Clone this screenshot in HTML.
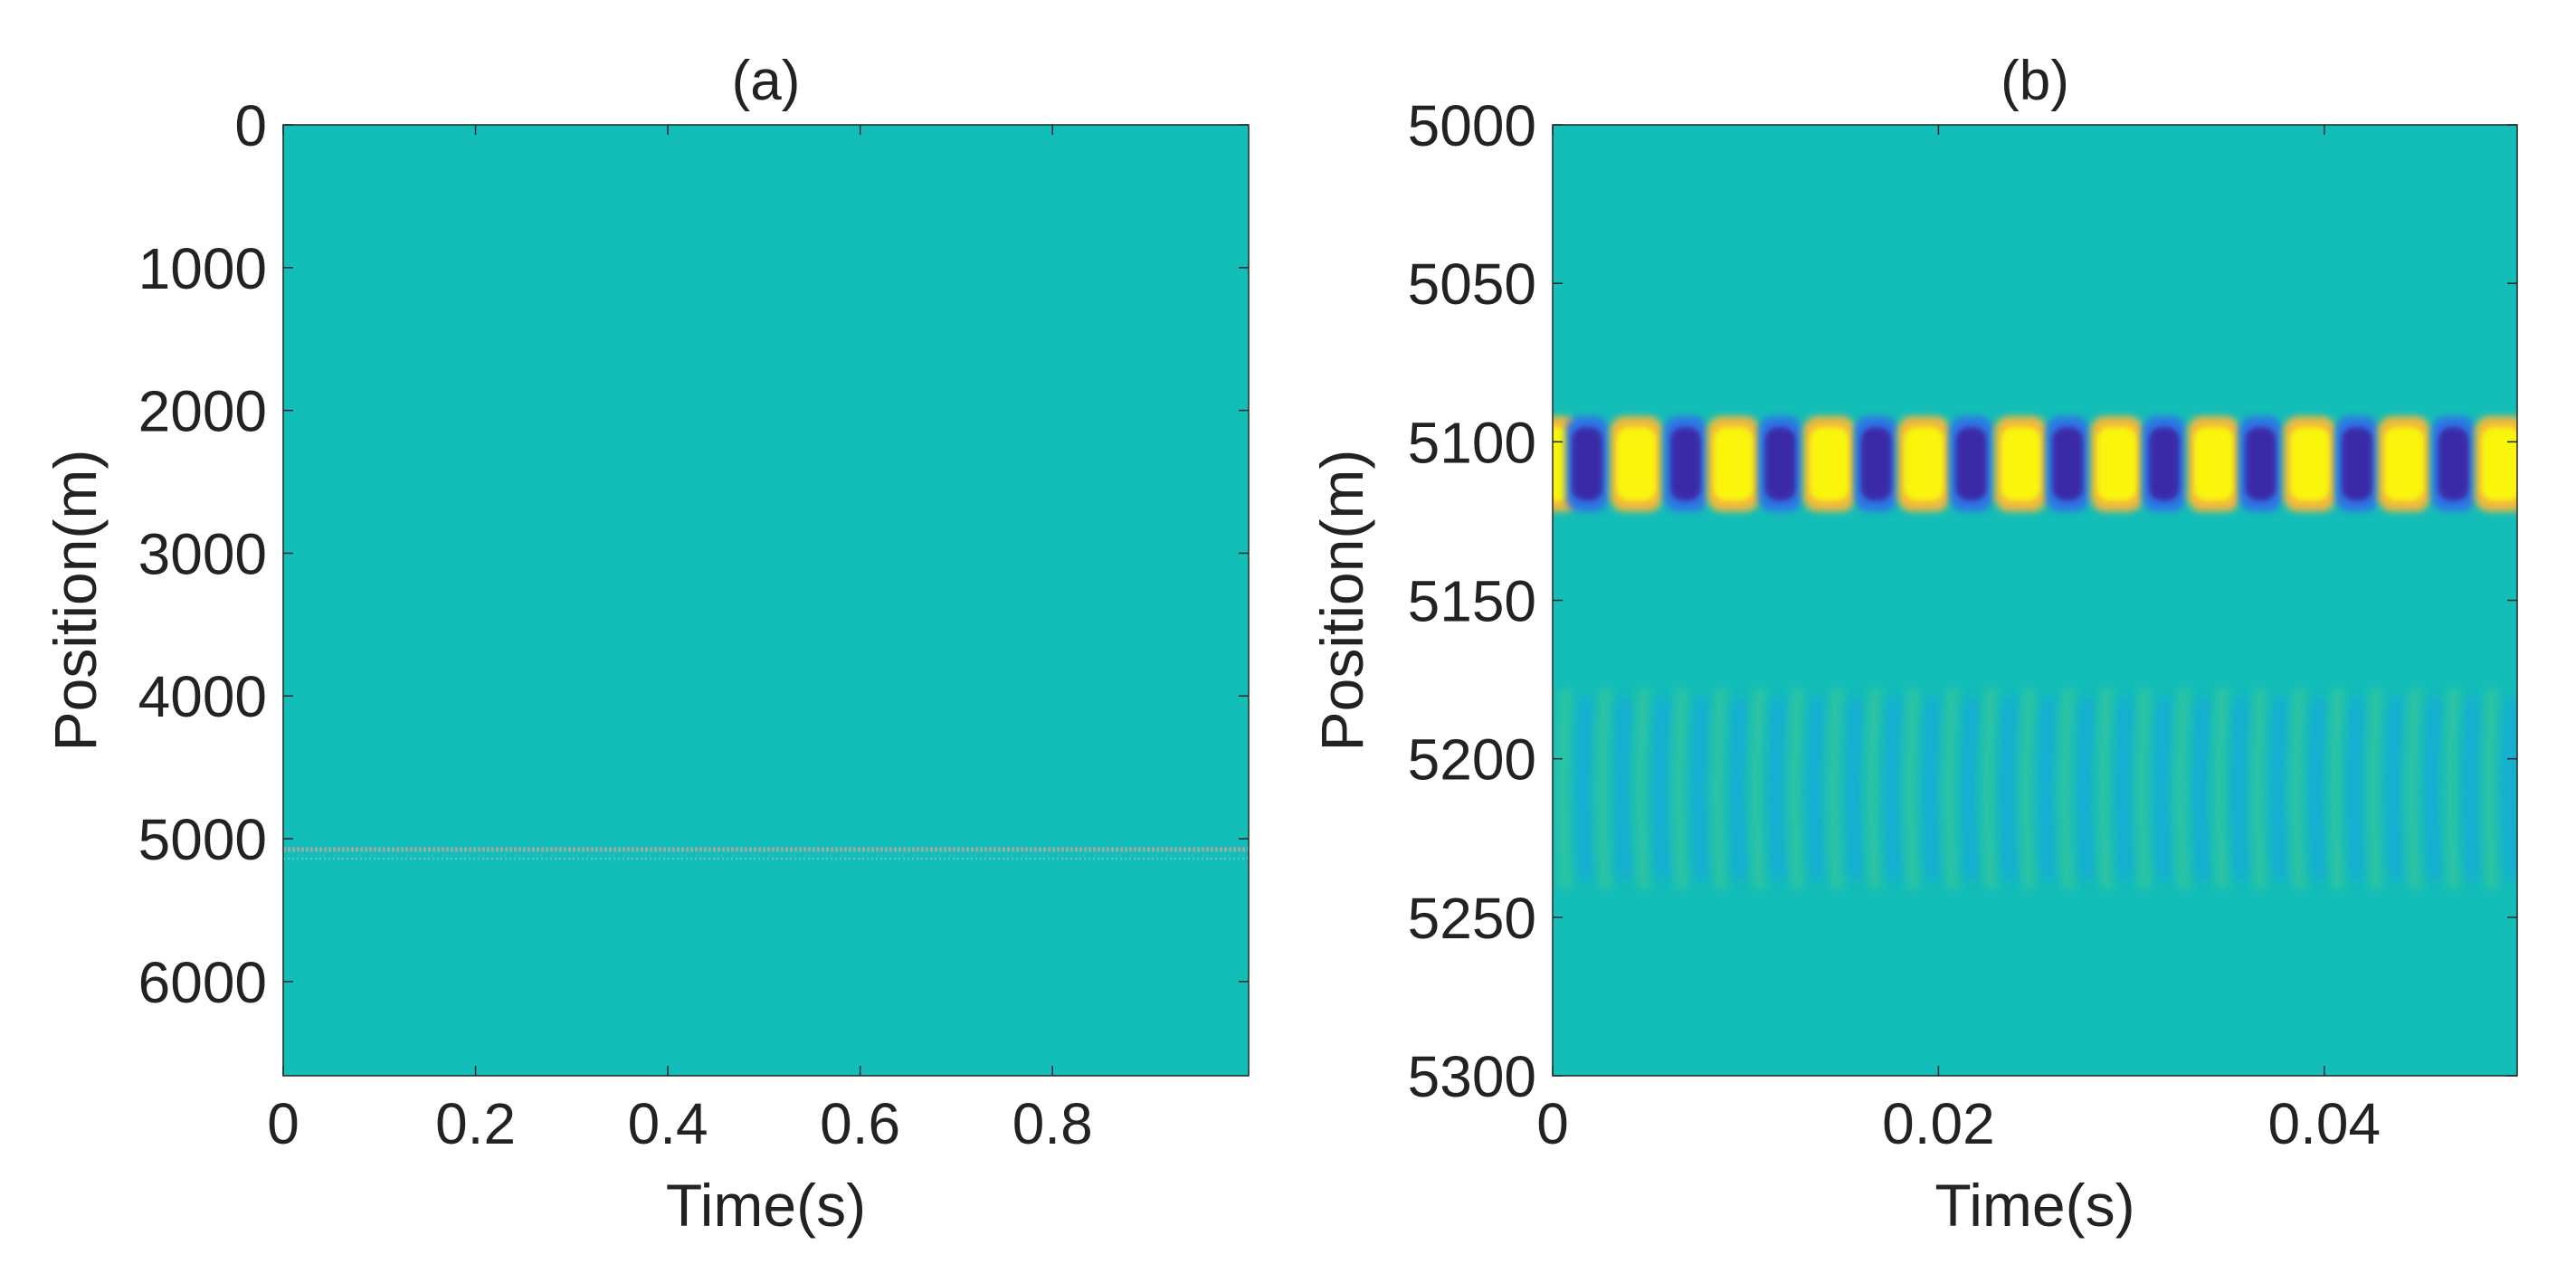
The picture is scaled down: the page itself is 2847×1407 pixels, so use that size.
<!DOCTYPE html>
<html><head><meta charset="utf-8"><style>
html,body{margin:0;padding:0;background:#fff;}
svg{display:block;}
text{font-family:"Liberation Sans",Arial,sans-serif;fill:#222;}
</style></head><body>
<svg id="fig" width="2847" height="1407" viewBox="0 0 2847 1407">
<defs>
<filter id="blur4" x="-50%" y="-50%" width="200%" height="200%"><feGaussianBlur stdDeviation="4"/></filter>
<filter id="blur3" x="-50%" y="-50%" width="200%" height="200%"><feGaussianBlur stdDeviation="3"/></filter>
<filter id="blur6" filterUnits="userSpaceOnUse" x="1600" y="600" width="1300" height="500"><feGaussianBlur stdDeviation="6"/></filter>
<clipPath id="clipA"><rect x="313" y="138" width="1067" height="1051"/></clipPath>
<clipPath id="clipB"><rect x="1716" y="138" width="1066" height="1051"/></clipPath>
</defs>
<g id="panelA"></g>
<g id="panelB"></g>
</svg>
<script>
// Panel (a) data
const aXTicks = [0, 0.2, 0.4, 0.6, 0.8];
const aYTicks = [0, 1000, 2000, 3000, 4000, 5000, 6000];
const aSourcePositions = [5100];
// Panel (b) data
const bXTicks = [0, 0.02, 0.04];
const bYTicks = [5000, 5050, 5100, 5150, 5200, 5250, 5300];
const blobTimes = [0, 0.00179, 0.00434, 0.0069, 0.00937, 0.0118, 0.01435, 0.01677, 0.01924, 0.0217, 0.02427, 0.0267, 0.02925, 0.0317, 0.03427, 0.0367, 0.03925, 0.0417, 0.04414, 0.0467, 0.04917];
const blobValues = [1, -1, 1, -1, 1, -1, 1, -1, 1, -1, 1, -1, 1, -1, 1, -1, 1, -1, 1, -1, 1];
const blobPosTop = 5092, blobPosBottom = 5122;
const stripeTimes = [0.0006, 0.0026, 0.0046, 0.0066, 0.0086, 0.0106, 0.0126, 0.0146, 0.0166, 0.0186, 0.0206, 0.0226, 0.0246, 0.0266, 0.0286, 0.0306, 0.0326, 0.0346, 0.0366, 0.0386, 0.0406, 0.0426, 0.0446, 0.0466, 0.0486];
const stripePosTop = 5178, stripePosBottom = 5241;

const NS = "http://www.w3.org/2000/svg";
function mk(tag, attrs, parent){const e=document.createElementNS(NS,tag);for(const k in attrs)e.setAttribute(k,attrs[k]);parent.appendChild(e);return e;}
function lin(d0,d1,r0,r1){return v=>r0+(v-d0)/(d1-d0)*(r1-r0);}

const TEAL="#13bdb8";
function axes(g, L, R, T, B, clip){
  const bg=mk('rect',{x:L,y:T,width:R-L,height:B-T,fill:TEAL},g);
  
  
  const layer=mk('g',{'clip-path':'url(#'+clip+')'},g);
  
  
  return layer;
}
function frame(g,L,R,T,B,xs,ys,xTicks,yTicks,title,ylab){
  const f=mk('rect',{x:L,y:T,width:R-L,height:B-T,fill:'none',stroke:'#262626','stroke-width':1.5},g);
  
  
  xTicks.forEach(v=>{const x=xs(v);
    const t=mk('line',{x1:x,x2:x,y1:B,y2:B-11,stroke:'#262626','stroke-width':1.5},g);
    
    
    mk('line',{x1:x,x2:x,y1:T,y2:T+11,stroke:'#262626','stroke-width':1.5},g);
    const l=mk('text',{x:x,y:1264,'font-size':64,'text-anchor':'middle'},g);l.textContent=String(v);
    
    
  });
  yTicks.forEach(v=>{const y=ys(v);
    const t=mk('line',{x1:L,x2:L+11,y1:y,y2:y,stroke:'#262626','stroke-width':1.5},g);
    
    
    mk('line',{x1:R,x2:R-11,y1:y,y2:y,stroke:'#262626','stroke-width':1.5},g);
    const l=mk('text',{x:L-18,y:y+23,'font-size':64,'text-anchor':'end'},g);l.textContent=String(v);
    
    
  });
  const ti=mk('text',{x:(L+R)/2,y:110,'font-size':62,'text-anchor':'middle'},g);ti.textContent=title;
  
  
  const xl=mk('text',{x:(L+R)/2,y:1355,'font-size':66,'text-anchor':'middle'},g);xl.textContent='Time(s)';
  
  
  const yl=mk('text',{x:0,y:0,'font-size':66,'text-anchor':'middle',transform:'translate('+ylab+','+((T+B)/2)+') rotate(-90)'},g);yl.textContent='Position(m)';
  
  
}

// Panel A
(function(){
  const g=document.getElementById('panelA');
  const L=313,R=1380,T=138,B=1189;
  const xs=lin(0,1.004,L,R), ys=lin(0,6660,T,B);
  const layer=axes(g,L,R,T,B,'clipA');
  aSourcePositions.forEach(p=>{
    const ln=mk('line',{x1:L,x2:R,y1:ys(p)-4,y2:ys(p)-4,stroke:'#9aa8a6','stroke-width':5,'stroke-dasharray':'3 2'},layer);
    
    
    const ln2=mk('line',{x1:L,x2:R,y1:ys(p)+6,y2:ys(p)+6,stroke:'#6fc6c0','stroke-width':2,'stroke-dasharray':'2 3'},layer);
    
    
  });
  frame(g,L,R,T,B,xs,ys,aXTicks,aYTicks,'(a)',106);
})();

// Panel B
(function(){
  const g=document.getElementById('panelB');
  const L=1716,R=2782,T=138,B=1189;
  const xs=lin(0,0.05,L,R), ys=lin(5000,5300,T,B);
  const layer=axes(g,L,R,T,B,'clipB');
  const sTop=ys(stripePosTop), sBot=ys(stripePosBottom), sMid=(sTop+sBot)/2;
  stripeTimes.forEach(t=>{
    const x=xs(t);
    const gs=mk('path',{d:'M'+(x+3)+','+sTop+' Q'+(x-4)+','+sMid+' '+(x+3)+','+sBot,stroke:'#3fc995','stroke-width':14,fill:'none',opacity:0.7,filter:'url(#blur6)'},layer);
    
    
    const xb=xs(t+0.001);
    const bs=mk('path',{d:'M'+(xb+3)+','+(sTop+10)+' Q'+(xb-4)+','+sMid+' '+(xb+3)+','+(sBot-10),stroke:'#17a6e2','stroke-width':16,fill:'none',opacity:0.75,filter:'url(#blur6)'},layer);
    
    
  });
  const bt=ys(blobPosTop), bb=ys(blobPosBottom);
  blobTimes.forEach((t,i)=>{
    const v=blobValues[i], x=xs(t);
    const pos=v>0;
    const w=pos?50:40;
    const halo=mk('rect',{x:x-w/2-4,y:bt,width:w+8,height:bb-bt,rx:16,fill:pos?'#f2b93a':'#2f74e6',filter:'url(#blur4)'},layer);
    
    
    const core=mk('rect',{x:x-w/2+3,y:bt+12,width:w-6,height:bb-bt-24,rx:14,fill:pos?'#f9f511':'#3a2ca8',filter:'url(#blur3)'},layer);
    
    
  });
  frame(g,L,R,T,B,xs,ys,bXTicks,bYTicks,'(b)',1506);
})();
</script>
</body></html>
